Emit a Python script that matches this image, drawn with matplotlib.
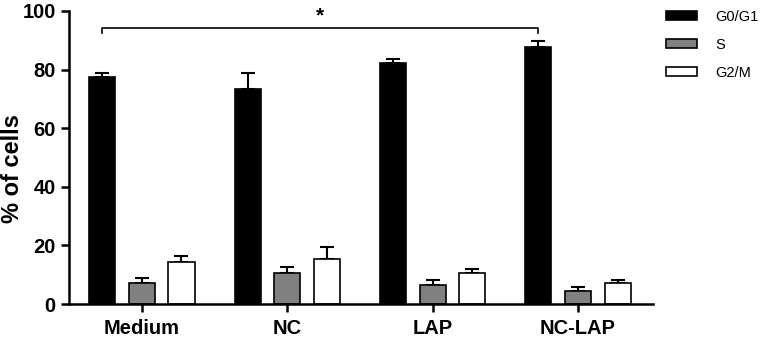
import matplotlib
matplotlib.use("Agg")
import matplotlib.pyplot as plt
import numpy as np

plt.rcParams['font.family'] = ['Liberation Sans', 'DejaVu Sans']

categories = ["Medium", "NC", "LAP", "NC-LAP"]
series = ["G0/G1", "S", "G2/M"]
g0g1 = [77.6, 73.5, 82.2, 87.8]
g0g1_err = [1.3, 5.2, 1.3, 2.1]
s_phase = [7.3, 10.5, 6.4, 4.5]
s_err = [1.5, 2.1, 1.8, 1.4]
g2m = [14.4, 15.5, 10.7, 7.0]
g2m_err = [2.0, 3.9, 1.1, 1.2]

colors = ["#000000", "#808080", "#ffffff"]
values = [g0g1, s_phase, g2m]
errors = [g0g1_err, s_err, g2m_err]

W, H = 765, 338
fig = plt.figure(figsize=(W / 100, H / 100), dpi=100)
ax = fig.add_axes([69 / W, 1 - 304 / H, (653 - 69) / W, (304 - 11) / H])

x = np.arange(len(categories))
offset = 0.272
width = 0.179
handles = []
for i, (vals, errs, c, name) in enumerate(zip(values, errors, colors, series)):
    xs = x + (i - 1) * offset
    b = ax.bar(xs, vals, width=width, color=c, edgecolor="black", linewidth=1.2,
               label=name, zorder=2)
    handles.append(b)
    ax.errorbar(xs, vals, yerr=[np.zeros(len(errs)), errs], fmt="none",
                ecolor="black", elinewidth=1.5, capsize=5, capthick=1.5, zorder=1)

ax.set_xlim(-0.502, 3.516)
ax.set_ylim(0, 100)
ax.set_yticks([0, 20, 40, 60, 80, 100])
ax.set_xticks(x)
ax.set_xticklabels(categories, fontsize=14.5, fontweight="bold")
ax.tick_params(axis="y", labelsize=14.5, width=1.8, length=5.5, pad=4)
ax.tick_params(axis="x", width=1.8, length=6, pad=5)
for lab in ax.get_yticklabels():
    lab.set_fontweight("bold")
ax.set_ylabel("% of cells", fontsize=17, fontweight="bold")
ax.yaxis.set_label_coords(24 / W, 0.5, transform=fig.transFigure)
for s in ["top", "right"]:
    ax.spines[s].set_visible(False)
for s in ["left", "bottom"]:
    ax.spines[s].set_linewidth(1.8)

# significance bracket
x0 = x[0] - offset
x1 = x[3] - offset
ax.plot([x0, x0, x1, x1], [92.5, 94.3, 94.3, 92.5], color="black", lw=1.2,
        clip_on=False)
ax.text((x0 + x1) / 2, 95.0, "*", ha="center", va="bottom", fontsize=15,
        fontweight="bold")

fig.legend(handles=handles, labels=series, loc="upper left",
           bbox_to_anchor=(666 / W, 1 - 10 / H), frameon=False, fontsize=10.5,
           handlelength=2.1, handleheight=0.55, handletextpad=1.25,
           labelspacing=0.95, borderpad=0, borderaxespad=0)

fig.savefig("out.png", dpi=100)
